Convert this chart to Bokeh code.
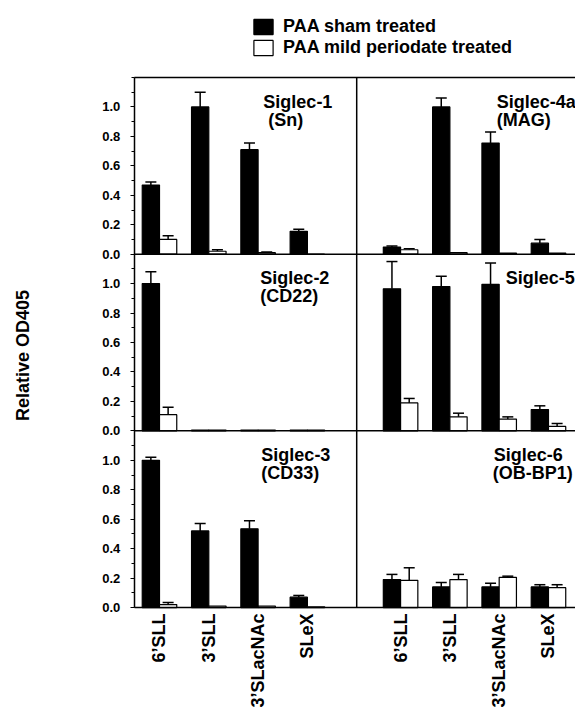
import math
from bokeh.plotting import figure
from bokeh.models import (ColumnDataSource, Range1d, FixedTicker, Whisker, TeeHead,
                          Span, Legend, LegendItem)
from bokeh.core.properties import value
from bokeh.embed import file_html
from bokeh.resources import INLINE

# ---------------- data ----------------
sugars = ["6\u2019SLL", "3\u2019SLL", "3\u2019SLacNAc", "SLeX"]
panel_names = ["Siglec-1", "Siglec-4a", "Siglec-2", "Siglec-5", "Siglec-3", "Siglec-6"]
panel_subs = ["(Sn)", "(MAG)", "(CD22)", "", "(CD33)", "(OB-BP1)"]
series_names = ["PAA sham treated", "PAA mild periodate treated"]
y_title = "Relative OD405"

sham_siglec1 = [0.47, 1.00, 0.71, 0.155]
sham_siglec1_err = [0.02, 0.10, 0.045, 0.015]
mild_siglec1 = [0.10, 0.02, 0.01, 0.0]
mild_siglec1_err = [0.025, 0.01, 0.005, 0.0]

sham_siglec4a = [0.048, 1.00, 0.755, 0.075]
sham_siglec4a_err = [0.008, 0.06, 0.075, 0.025]
mild_siglec4a = [0.03, 0.01, 0.008, 0.008]
mild_siglec4a_err = [0.007, 0.0, 0.0, 0.0]

sham_siglec2 = [1.00, 0.005, 0.005, 0.005]
sham_siglec2_err = [0.08, 0.0, 0.0, 0.0]
mild_siglec2 = [0.11, 0.005, 0.005, 0.005]
mild_siglec2_err = [0.05, 0.0, 0.0, 0.0]

sham_siglec5 = [0.965, 0.98, 0.995, 0.145]
sham_siglec5_err = [0.185, 0.07, 0.145, 0.025]
mild_siglec5 = [0.19, 0.095, 0.08, 0.03]
mild_siglec5_err = [0.03, 0.025, 0.015, 0.02]

sham_siglec3 = [1.00, 0.52, 0.535, 0.07]
sham_siglec3_err = [0.02, 0.05, 0.055, 0.012]
mild_siglec3 = [0.02, 0.01, 0.01, 0.005]
mild_siglec3_err = [0.015, 0.0, 0.0, 0.0]

sham_siglec6 = [0.19, 0.14, 0.14, 0.14]
sham_siglec6_err = [0.035, 0.03, 0.025, 0.015]
mild_siglec6 = [0.185, 0.19, 0.205, 0.135]
mild_siglec6_err = [0.085, 0.035, 0.008, 0.02]

y_tick_values = [0.0, 0.2, 0.4, 0.6, 0.8, 1.0]

sham_all = [sham_siglec1, sham_siglec4a, sham_siglec2, sham_siglec5, sham_siglec3, sham_siglec6]
sham_err_all = [sham_siglec1_err, sham_siglec4a_err, sham_siglec2_err, sham_siglec5_err,
                sham_siglec3_err, sham_siglec6_err]
mild_all = [mild_siglec1, mild_siglec4a, mild_siglec2, mild_siglec5, mild_siglec3, mild_siglec6]
mild_err_all = [mild_siglec1_err, mild_siglec4a_err, mild_siglec2_err, mild_siglec5_err,
                mild_siglec3_err, mild_siglec6_err]

# ---------------- layout (not data) ----------------
# the plotting frame covers the whole canvas; the axes sit at fixed positions inside it
X_MIN, X_MAX = -3.225, 8.438       # canvas extent in x units
X_PANEL = -0.51                    # left edge of the left panels
DIVIDER = 4.0
RIGHT_SHIFT = 4.89
PANEL_H = 1.2
Y_TOP = 3 * PANEL_H
Y_MIN, Y_MAX = -0.679, 4.123       # canvas extent in y units
BAR_W = 0.35
title_dx = [129, 140, 126, 149, 127, 137]   # px from panel left edge
sub_dx = [134, 140, 126, 149, 127, 136]
FONT = "Liberation Sans"

def panel_origin(k):
    row, col = divmod(k, 2)
    return (0.0 if col == 0 else RIGHT_SHIFT), (2 - row) * PANEL_H

def build(vals_all, errs_all, shift):
    bars = dict(x=[], top=[], bottom=[])
    whisk = dict(x=[], lower=[], upper=[])
    for k in range(6):
        x0, y0 = panel_origin(k)
        for i, (v, e) in enumerate(zip(vals_all[k], errs_all[k])):
            x = x0 + i + shift
            bars["x"].append(x)
            bars["top"].append(y0 + v)
            bars["bottom"].append(y0)
            if e > 0:
                whisk["x"].append(x)
                whisk["lower"].append(y0 + v)
                whisk["upper"].append(y0 + v + e)
    return ColumnDataSource(bars), ColumnDataSource(whisk)

sham_src, sham_wsrc = build(sham_all, sham_err_all, -BAR_W / 2)
mild_src, mild_wsrc = build(mild_all, mild_err_all, BAR_W / 2)

p = figure(width=575, height=707, output_backend="svg", toolbar_location=None,
           x_range=Range1d(X_MIN, X_MAX), y_range=Range1d(Y_MIN, Y_MAX),
           min_border=0)
p.outline_line_color = None
p.grid.visible = False
p.background_fill_color = "white"

r_sham = p.vbar(x="x", top="top", bottom="bottom", width=BAR_W, source=sham_src,
                fill_color="black", line_color="black", line_width=1.2)
r_mild = p.vbar(x="x", top="top", bottom="bottom", width=BAR_W, source=mild_src,
                fill_color="white", line_color="black", line_width=1.2)

for src in (sham_wsrc, mild_wsrc):
    p.add_layout(Whisker(source=src, base="x", lower="lower", upper="upper",
                         dimension="height", line_width=1.5, line_color="black",
                         lower_head=None,
                         upper_head=TeeHead(size=11, line_width=1.5, line_color="black")))

# panel borders
p.segment(x0=[X_PANEL] * 3, y0=[PANEL_H, 2 * PANEL_H, Y_TOP],
          x1=[X_MAX] * 3, y1=[PANEL_H, 2 * PANEL_H, Y_TOP], line_color="black", line_width=1.5)
p.segment(x0=[DIVIDER], y0=[0], x1=[DIVIDER], y1=[Y_TOP], line_color="black", line_width=1.5)

# panel titles
tx, ty, tt, tdx = [], [], [], []
sx, sy, st, sdx = [], [], [], []
for k in range(6):
    x0, y0 = panel_origin(k)
    left = X_PANEL if k % 2 == 0 else DIVIDER
    tx.append(left); ty.append(y0 + PANEL_H); tt.append(panel_names[k]); tdx.append(title_dx[k])
    if panel_subs[k]:
        sx.append(left); sy.append(y0 + PANEL_H); st.append(panel_subs[k]); sdx.append(sub_dx[k])
p.text(x="x", y="y", text="t", x_offset="dx", source=ColumnDataSource(dict(x=tx, y=ty, t=tt, dx=tdx)),
       y_offset=24, text_font=value(FONT), text_font_style="bold", text_font_size="18px",
       text_align="left", text_baseline="alphabetic", text_color="black")
p.text(x="x", y="y", text="t", x_offset="dx", source=ColumnDataSource(dict(x=sx, y=sy, t=st, dx=sdx)),
       y_offset=42, text_font=value(FONT), text_font_style="bold", text_font_size="18px",
       text_align="left", text_baseline="alphabetic", text_color="black")

# y title
p.text(x=[X_PANEL], y=[Y_TOP / 2], text=[y_title], x_offset=-111, y_offset=13,
       angle=math.pi / 2, text_font=value(FONT), text_font_style="bold", text_font_size="18px",
       text_align="center", text_baseline="middle", text_color="black")

# y axis
yt, ym, yo = [], set(), {}
for row in range(3):
    off = row * PANEL_H
    for v in y_tick_values:
        t = round(off + v, 2)
        yt.append(t)
        yo[t] = f"{v:.1f}"
    for j in range(13):
        ym.add(round(off + j * 0.1, 2))
yax = p.yaxis[0]
yax.fixed_location = X_PANEL
yax.bounds = (0, Y_TOP)
yax.ticker = FixedTicker(ticks=yt, minor_ticks=sorted(ym))
yax.major_label_overrides = yo
yax.major_label_text_font = FONT
yax.major_label_text_font_style = "bold"
yax.major_label_text_font_size = "13px"
yax.major_label_text_color = "black"
yax.major_label_standoff = 10
yax.major_tick_out = 4
yax.major_tick_in = 0
yax.minor_tick_out = 3
yax.minor_tick_in = 0
yax.axis_line_width = 1.5
yax.axis_line_color = "black"
yax.major_tick_line_color = "black"
yax.minor_tick_line_color = "black"
yax.major_tick_line_width = 1.2
yax.minor_tick_line_width = 1.2

# x axis
xt, xo = [], {}
for col in range(2):
    for i, s in enumerate(sugars):
        t = round(col * RIGHT_SHIFT + i, 2)
        xt.append(t)
        xo[t] = s
xax = p.xaxis[0]
xax.fixed_location = 0
xax.bounds = (X_PANEL, X_MAX)
xax.ticker = FixedTicker(ticks=xt, minor_ticks=[])
xax.major_label_overrides = xo
xax.major_label_orientation = math.pi / 2
xax.major_label_text_font = FONT
xax.major_label_text_font_style = "bold"
xax.major_label_text_font_size = "18px"
xax.major_label_text_color = "black"
xax.major_label_standoff = 6
xax.major_tick_out = 0
xax.major_tick_in = 0
xax.minor_tick_out = 0
xax.axis_line_width = 1.5
xax.axis_line_color = "black"

legend = Legend(items=[LegendItem(label=series_names[0], renderers=[r_sham]),
                       LegendItem(label=series_names[1], renderers=[r_mild])],
                location=(251, 649), padding=0, margin=0, spacing=-1,
                glyph_width=24, glyph_height=19, label_standoff=8,
                label_text_font=FONT, label_text_font_style="bold", label_text_font_size="18px",
                label_text_color="black",
                border_line_color=None, background_fill_alpha=0)
p.add_layout(legend, "center")

open("out.html", "w").write(file_html(p, INLINE))
